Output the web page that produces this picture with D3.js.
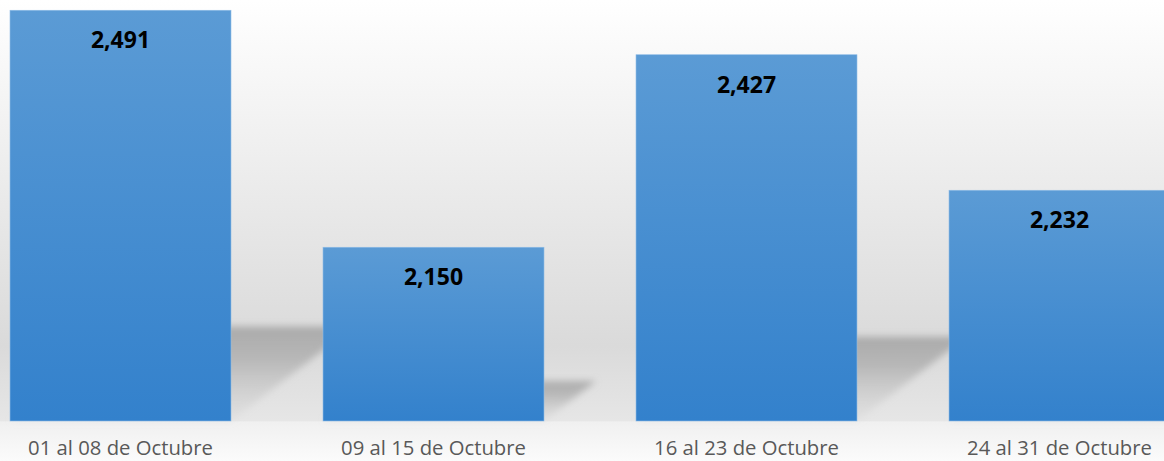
<!DOCTYPE html>
<html>
<head>
<meta charset="utf-8">
<script src="https://cdn.jsdelivr.net/npm/d3@7"></script>
<style>
  html, body { margin: 0; padding: 0; background: #fff; }
  svg { display: block; }
</style>
</head>
<body>
<svg id="chart"></svg>
<script>
// Datos del gráfico
const categories = ["01 al 08 de Octubre", "09 al 15 de Octubre", "16 al 23 de Octubre", "24 al 31 de Octubre"];
const values = [2491, 2150, 2427, 2232];

const W = 1164, H = 461;
const baseY = 421;

const svg = d3.select("#chart").attr("width", W).attr("height", H);
const defs = svg.append("defs");

// Fondo: degradado vertical
const bg = defs.append("linearGradient").attr("id", "bg").attr("x1", 0).attr("y1", 0).attr("x2", 0).attr("y2", 1);
bg.append("stop").attr("offset", 0).attr("stop-color", "#ffffff");
bg.append("stop").attr("offset", 0.75).attr("stop-color", "#dadada");
bg.append("stop").attr("offset", 0.913).attr("stop-color", "#e6e6e6");
bg.append("stop").attr("offset", 0.915).attr("stop-color", "#f0f0f0");
bg.append("stop").attr("offset", 1).attr("stop-color", "#fbfbfb");
svg.append("rect").attr("width", W).attr("height", H).attr("fill", "url(#bg)");

// Degradado de las barras
const barGrad = defs.append("linearGradient").attr("id", "barGrad").attr("x1", 0).attr("y1", 0).attr("x2", 0).attr("y2", 1);
barGrad.append("stop").attr("offset", 0).attr("stop-color", "#5b9bd5");
barGrad.append("stop").attr("offset", 1).attr("stop-color", "#3381cc");

// Sombra
const shGrad = defs.append("linearGradient").attr("id", "shGrad").attr("x1", 0).attr("y1", 0).attr("x2", 0).attr("y2", 1);
shGrad.append("stop").attr("offset", 0).attr("stop-color", "#9a9a9a").attr("stop-opacity", 0.75);
shGrad.append("stop").attr("offset", 0.35).attr("stop-color", "#a8a8a8").attr("stop-opacity", 0.7);
shGrad.append("stop").attr("offset", 1).attr("stop-color", "#cfcfcf").attr("stop-opacity", 0.2);
defs.append("filter").attr("id", "blur").attr("x", "-20%").attr("y", "-20%").attr("width", "140%").attr("height", "140%")
  .append("feGaussianBlur").attr("stdDeviation", 3.5);

const x = d3.scaleBand()
  .domain(categories)
  .range([-36, -36 + 313 * 4])
  .paddingInner(0.294)
  .paddingOuter(0.147);

const y = d3.scaleLinear().domain([1900, 2500]).range([baseY, 4]);

const fmt = d3.format(",");

// Sombras en perspectiva
const shScale = 0.23, shSkew = 0.3;
svg.append("g").selectAll("path")
  .data(values)
  .join("path")
  .attr("d", (d, i) => {
    const x0 = x(categories[i]), x1 = x0 + x.bandwidth();
    const h = baseY - y(d);
    const sh = h * shScale, off = h * shSkew;
    return `M${x0},${baseY} L${x1},${baseY} L${x1 + off},${baseY - sh} L${x0 + off},${baseY - sh} Z`;
  })
  .attr("fill", "url(#shGrad)")
  .attr("filter", "url(#blur)");

// Barras
svg.append("g").selectAll("rect")
  .data(values)
  .join("rect")
  .attr("x", (d, i) => x(categories[i]))
  .attr("y", d => y(d))
  .attr("width", x.bandwidth())
  .attr("height", d => baseY - y(d))
  .attr("fill", "url(#barGrad)")
  .attr("stroke", "#8dbbe6")
  .attr("stroke-width", 0.6);

// Etiquetas de valores
svg.append("g").selectAll("text")
  .data(values)
  .join("text")
  .attr("x", (d, i) => x(categories[i]) + x.bandwidth() / 2)
  .attr("y", d => y(d) + 38)
  .attr("text-anchor", "middle")
  .style("font-family", "'Open Sans', sans-serif")
  .style("font-weight", "700")
  .style("font-size", "23px")
  .style("fill", "#000")
  .text(d => fmt(d));

// Eje de categorías
const axis = svg.append("g")
  .attr("transform", `translate(0,${baseY})`)
  .call(d3.axisBottom(x).tickSize(0).tickPadding(0));
axis.select(".domain").remove();
axis.selectAll("text")
  .attr("y", 34)
  .attr("dy", null)
  .style("font-family", "'Open Sans', sans-serif")
  .style("font-size", "20.3px")
  .style("fill", "#595959");
</script>
</body>
</html>
